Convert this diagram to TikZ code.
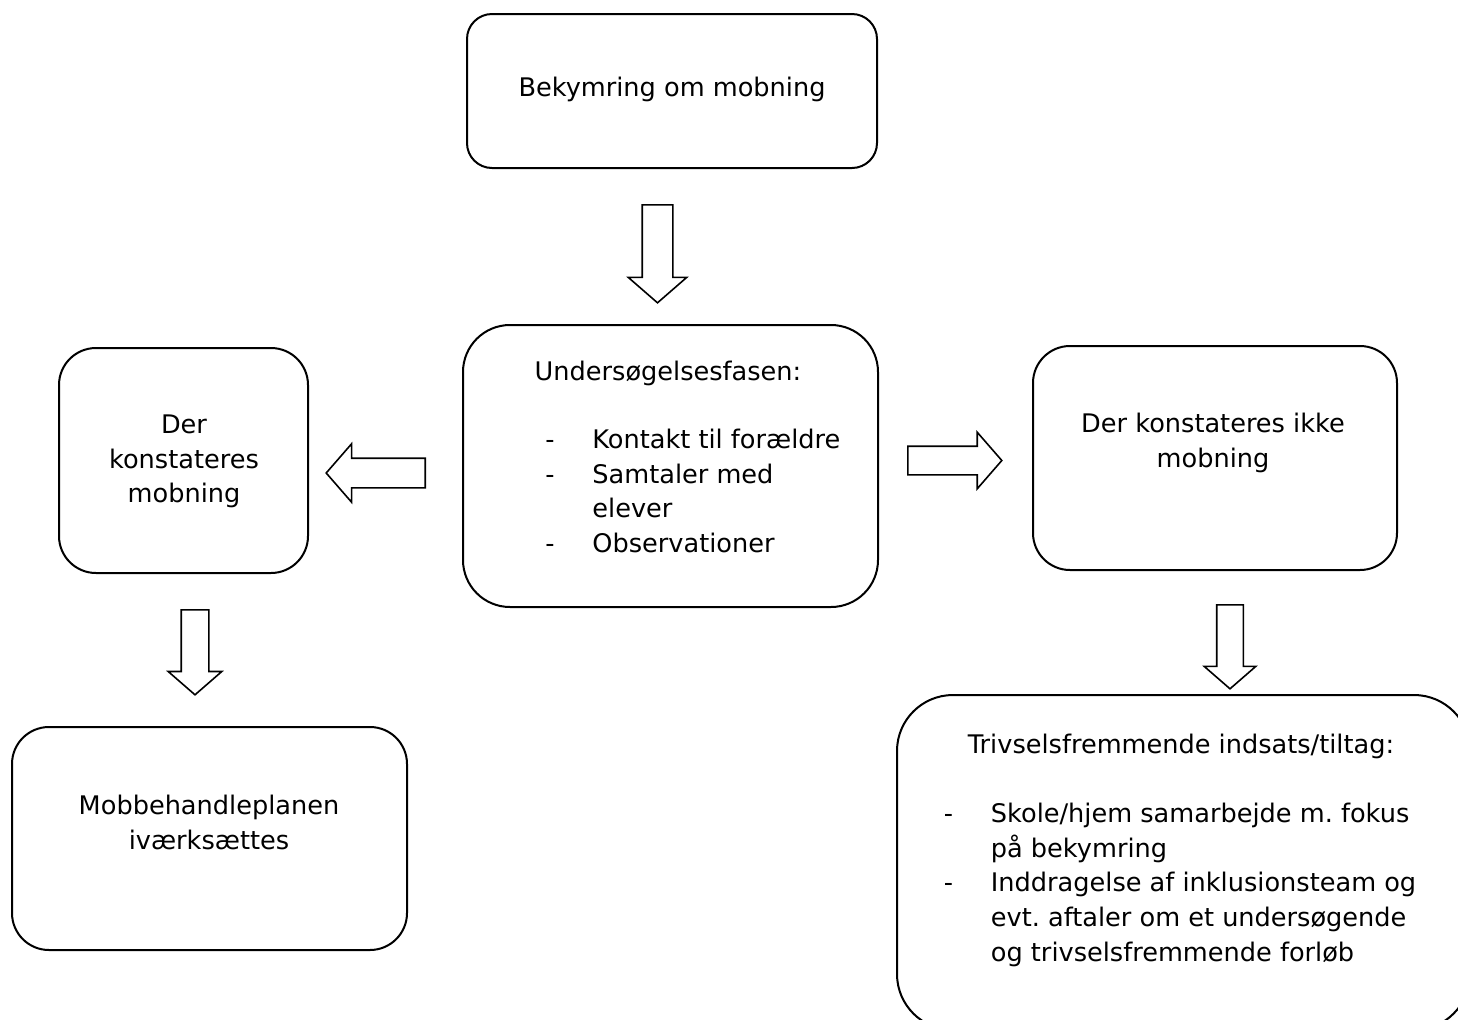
\documentclass[tikz,border=0pt]{standalone}
\usepackage{fontspec}
\setmainfont{DejaVu Sans}
\usetikzlibrary{shapes.arrows}

\tikzset{
  boks/.style n args={3}{draw, line width=1pt, inner sep=0pt,
    minimum width=#1, minimum height=#2, rounded corners=#3},
  pil/.style n args={3}{single arrow, draw, line width=0.8pt, inner xsep=0pt,
    inner ysep=#2, minimum height=#1, single arrow head extend=#3,
    single arrow tip angle=98, anchor=tail},
  tekst/.style={anchor=north, inner sep=0pt, align=center,
    font=\fontsize{12.8pt}{17.4pt}\selectfont\frenchspacing},
  liste/.style={tekst, anchor=north west, align=left}
}
\newcommand{\punkt}[1]{\makebox[23.5pt][l]{-}#1}
\newcommand{\fortsat}[1]{\hspace*{23.5pt}#1}

\begin{document}
\begin{tikzpicture}[x=0.5pt, y=-0.5pt]

    % Ramme
    \useasboundingbox (0,0) rectangle (1458,1019);
    \clip (0,0) rectangle (1458,1019);

    % Kasser
    \node[boks={205pt}{77pt}{12.5pt}] (bekymring) at (672,91) {};
    \node[boks={207.5pt}{141pt}{23.5pt}] (undersoeg) at (670.5,466) {};
    \node[boks={124.5pt}{112.5pt}{18.5pt}] (mobning) at (183.5,460.5) {};
    \node[boks={182pt}{112pt}{18.5pt}] (ikkeMobning) at (1215,458) {};
    \node[boks={197.5pt}{111.5pt}{18.5pt}] (plan) at (209.5,838.5) {};
    \node[boks={286.5pt}{167.5pt}{28pt}] (trivsel) at (1183.5,862.5) {};

    % Tekster
    \node[tekst] (tBekymring) at (672,71.6) {\strut Bekymring om mobning};
    \node[tekst] (tUndersoeg) at (668,355.6) {\strut Undersøgelsesfasen:};
    \node[liste] (lUndersoeg) at (545,423.6) {\strut\punkt{Kontakt til forældre}\\
        \punkt{Samtaler med}\\ \fortsat{elever}\\ \punkt{Observationer}};
    \node[tekst] (tMobning) at (184,408.6) {\strut Der\\ konstateres\\ mobning};
    \node[tekst] (tIkke) at (1213,407.6) {\strut Der konstateres ikke\\ mobning};
    \node[tekst] (tPlan) at (209,789.6) {\strut Mobbehandleplanen\\ iværksættes};
    \node[tekst] (tTrivsel) at (1181,728.6) {\strut Trivselsfremmende indsats/tiltag:};
    \node[liste] (lTrivsel) at (943.5,797.6) {\strut\punkt{Skole/hjem samarbejde m. fokus}\\
        \fortsat{på bekymring}\\ \punkt{Inddragelse af inklusionsteam og}\\
        \fortsat{evt. aftaler om et undersøgende}\\ \fortsat{og trivselsfremmende forløb}};

    % Blokpile
    \node[pil={49pt}{7.25pt}{7pt}, rotate=-90] (pilNed) at (657.5,204) {};
    \node[pil={49.5pt}{7pt}{7.25pt}, rotate=180] (pilVenstre) at (426,473) {};
    \node[pil={47pt}{6.75pt}{7pt}] (pilHoejre) at (907,460.5) {};
    \node[pil={42.5pt}{6.5pt}{6.5pt}, rotate=-90] (pilNedV) at (195,609) {};
    \node[pil={42pt}{6.25pt}{6.25pt}, rotate=-90] (pilNedH) at (1230,604) {};

\end{tikzpicture}
\end{document}
